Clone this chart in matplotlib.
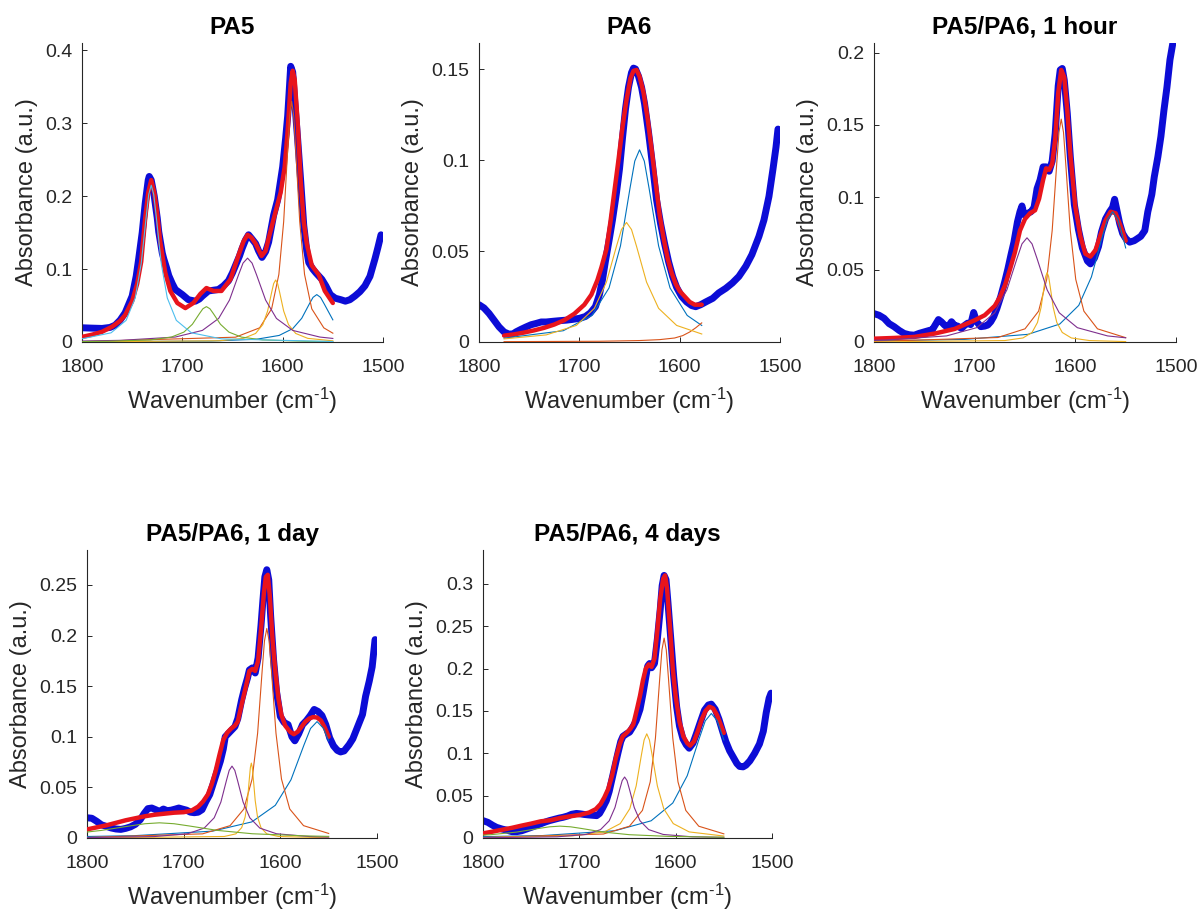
import matplotlib
matplotlib.use("Agg")
import matplotlib.pyplot as plt
from matplotlib import font_manager, ticker

# ---- data (wavenumber in cm-1, absorbance in a.u.) ----

# PA5
pa5_wn = [1800, 1790, 1780, 1772, 1767, 1762, 1757, 1750, 1746, 1743.5, 1740, 1737, 1734, 1733, 1731,
          1728, 1725, 1723.5, 1720, 1718.5, 1716, 1713.5, 1710, 1707, 1700, 1694, 1687, 1683, 1680,
          1674, 1669, 1664, 1659, 1654, 1650, 1647, 1643, 1640.5, 1637, 1634, 1631, 1627, 1624, 1620.6,
          1617, 1614, 1609, 1605, 1600, 1597, 1595, 1593, 1592, 1590, 1588, 1585, 1582, 1579, 1576,
          1574, 1570, 1567, 1561, 1557, 1552.5, 1547.5, 1542, 1537.5, 1533, 1528, 1523, 1518, 1513,
          1508, 1505, 1502]
pa5_abs = [0.0195, 0.019, 0.0186, 0.02, 0.023, 0.03, 0.04, 0.063, 0.09, 0.114, 0.15, 0.19, 0.222, 0.227,
           0.222, 0.2, 0.17, 0.151, 0.122, 0.114, 0.103, 0.091, 0.08, 0.072, 0.065, 0.058, 0.056, 0.059,
           0.063, 0.07, 0.071, 0.072, 0.077, 0.084, 0.095, 0.105, 0.118, 0.128, 0.14, 0.147, 0.142, 0.135,
           0.125, 0.116, 0.124, 0.137, 0.174, 0.195, 0.24, 0.28, 0.31, 0.355, 0.378, 0.37, 0.33, 0.277,
           0.22, 0.16, 0.125, 0.109, 0.1, 0.095, 0.086, 0.077, 0.065, 0.06, 0.058, 0.056, 0.058, 0.063,
           0.069, 0.077, 0.09, 0.114, 0.13, 0.147]
pa5_fit_wn = [1800, 1790, 1780, 1770, 1762, 1757, 1750, 1745, 1741, 1737, 1734, 1731, 1728, 1725, 1722,
              1717, 1712, 1705, 1697, 1689, 1682, 1676, 1669, 1661, 1652, 1644, 1639, 1635, 1631, 1627,
              1621, 1617, 1614, 1607, 1602, 1598, 1595, 1592, 1590, 1588, 1585, 1582, 1579, 1576, 1571,
              1564, 1558, 1550]
pa5_fit = [0.007, 0.01, 0.014, 0.021, 0.029, 0.037, 0.056, 0.08, 0.11, 0.17, 0.205, 0.222, 0.205, 0.175,
           0.137, 0.095, 0.07, 0.0535, 0.0465, 0.0535, 0.066, 0.074, 0.07, 0.07, 0.086, 0.119, 0.138, 0.147,
           0.143, 0.135, 0.118, 0.125, 0.142, 0.179, 0.205, 0.24, 0.29, 0.355, 0.372, 0.36, 0.3, 0.22,
           0.165, 0.135, 0.105, 0.092, 0.07, 0.0535]
pa5_peaks_wn = [
    [1800, 1671, 1626, 1603.5, 1590, 1581, 1573.5, 1569.75, 1566, 1562.25, 1558.5, 1550],
    [1800, 1647, 1623, 1611, 1603.8, 1599, 1595, 1593, 1591, 1589, 1587, 1583, 1578.2, 1571, 1559, 1550],
    [1800, 1663, 1639, 1627, 1619.8, 1615, 1611, 1609, 1607, 1605, 1603, 1599, 1594.2, 1587, 1575, 1550],
    [1800, 1761, 1707, 1680, 1663.8, 1653, 1644, 1639.5, 1635, 1630.5, 1626, 1617, 1606.2, 1590, 1563, 1550],
    [1800, 1774, 1732, 1711, 1698.4, 1690, 1683, 1679.5, 1676, 1672.5, 1669, 1662, 1653.6, 1641, 1620, 1578, 1550],
    [1800, 1771, 1756, 1747, 1741, 1736, 1733.5, 1731, 1728.5, 1726, 1721, 1715, 1706, 1691, 1661, 1550],
]
pa5_peaks_abs = [
    [0.0003, 0.0013, 0.0038, 0.009, 0.0183, 0.0325, 0.052, 0.0612, 0.065, 0.0612, 0.052, 0.0304],
    [0.0005, 0.0066, 0.0194, 0.0455, 0.0927, 0.165, 0.264, 0.3105, 0.33, 0.3105, 0.264, 0.165, 0.0927, 0.0455, 0.0194, 0.0121],
    [0.00015, 0.0017, 0.005, 0.0117, 0.0239, 0.0425, 0.068, 0.08, 0.085, 0.08, 0.068, 0.0425, 0.0239, 0.0117, 0.005, 0.0016],
    [0.00135, 0.0023, 0.0068, 0.0159, 0.0323, 0.0575, 0.092, 0.1082, 0.115, 0.1082, 0.092, 0.0575, 0.0323, 0.0159, 0.0068, 0.0049],
    [0.0006, 0.001, 0.00285, 0.0067, 0.0136, 0.0243, 0.0388, 0.0456, 0.0485, 0.0456, 0.0388, 0.0243, 0.0136, 0.0067, 0.00285, 0.001, 0.0006],
    [0.0044, 0.0126, 0.0297, 0.0604, 0.1075, 0.172, 0.2023, 0.215, 0.2023, 0.172, 0.1075, 0.0604, 0.0297, 0.0126, 0.0043, 0.00065],
]

# PA6
pa6_wn = [1800, 1795, 1790, 1785, 1780, 1775, 1770, 1766, 1763, 1758, 1753, 1748, 1743, 1738, 1733, 1726,
          1720, 1713, 1707, 1700, 1694, 1689, 1684, 1680, 1677, 1674, 1670, 1667, 1663, 1660, 1657, 1654,
          1651, 1648, 1646, 1644, 1641, 1638, 1635, 1631, 1627, 1623, 1619, 1615, 1611, 1607, 1603, 1598,
          1593, 1588, 1584, 1579, 1574, 1567, 1561, 1554, 1547.5, 1541, 1534, 1528, 1521, 1516, 1511,
          1507, 1504, 1502]
pa6_abs = [0.0205, 0.0187, 0.0157, 0.012, 0.0083, 0.0055, 0.0043, 0.0045, 0.0056, 0.007, 0.0083, 0.0095,
           0.0102, 0.011, 0.011, 0.0114, 0.0117, 0.012, 0.0124, 0.013, 0.014, 0.016, 0.0194, 0.026, 0.034,
           0.0444, 0.057, 0.067, 0.082, 0.095, 0.112, 0.128, 0.14, 0.148, 0.1505, 0.15, 0.146, 0.14, 0.131,
           0.115, 0.097, 0.078, 0.065, 0.054, 0.044, 0.036, 0.03, 0.025, 0.022, 0.02, 0.0194, 0.0205, 0.022,
           0.024, 0.027, 0.0295, 0.0324, 0.036, 0.0417, 0.048, 0.058, 0.067, 0.08, 0.095, 0.107, 0.117]
pa6_fit_wn = [1775, 1765, 1755, 1745, 1735, 1725, 1715, 1705, 1695, 1688, 1682, 1678, 1673, 1669, 1665,
              1661, 1657, 1653, 1649, 1646, 1643, 1640, 1636, 1632, 1628, 1624, 1620, 1616, 1612, 1608,
              1604, 1600, 1595, 1590, 1585, 1578]
pa6_fit = [0.0035, 0.0042, 0.0052, 0.0064, 0.0078, 0.0096, 0.012, 0.0155, 0.0205, 0.026, 0.034, 0.041,
           0.051, 0.066, 0.083, 0.1, 0.118, 0.133, 0.145, 0.149, 0.1495, 0.146, 0.137, 0.123, 0.106, 0.088,
           0.07, 0.057, 0.046, 0.038, 0.032, 0.028, 0.025, 0.022, 0.0205, 0.0205]
pa6_peaks_wn = [
    [1775, 1716, 1687.5, 1670.4, 1659, 1649.5, 1644.75, 1640, 1635.25, 1630.5, 1621, 1609.6, 1592.5, 1578],
    [1775, 1680, 1640, 1620, 1605, 1597, 1590, 1584, 1578],
    [1775, 1733, 1703, 1685, 1673, 1663, 1658, 1653, 1648, 1643, 1633, 1621, 1603, 1578],
]
pa6_peaks_abs = [
    [0.0021, 0.0062, 0.0146, 0.0297, 0.0528, 0.0845, 0.0994, 0.1056, 0.0994, 0.0845, 0.0528, 0.0297, 0.0146, 0.0091],
    [0.0002, 0.0004, 0.0008, 0.0013, 0.0022, 0.0035, 0.0055, 0.0078, 0.0105],
    [0.0017, 0.0039, 0.0091, 0.0185, 0.0329, 0.0526, 0.0618, 0.0657, 0.0618, 0.0526, 0.0329, 0.0185, 0.0091, 0.0044],
]

# PA5/PA6, 1 hour
h1_wn = [1800, 1795, 1790, 1785, 1780, 1775, 1770, 1765, 1760, 1755, 1750, 1745, 1742, 1739, 1736, 1733,
         1730, 1727, 1723, 1720, 1717, 1713, 1710, 1707, 1704, 1701, 1698, 1694, 1690, 1687, 1684, 1681,
         1678, 1674, 1670, 1667, 1664, 1661, 1657.5, 1655, 1653, 1651, 1647, 1644, 1641, 1638, 1635, 1632,
         1629, 1626, 1623, 1620, 1617, 1615, 1613, 1611, 1608, 1605, 1601, 1597, 1593, 1588, 1585, 1581,
         1577, 1574, 1570, 1566, 1563, 1561, 1559, 1556, 1553, 1550, 1546, 1541.5, 1538, 1535, 1531, 1528,
         1524, 1521.6, 1518, 1515, 1512, 1509, 1506, 1503]
h1_abs = [0.0196, 0.0185, 0.0164, 0.0127, 0.0106, 0.008, 0.0059, 0.005, 0.0047, 0.006, 0.007, 0.008,
          0.0085, 0.012, 0.0155, 0.0139, 0.0117, 0.01, 0.014, 0.0115, 0.011, 0.0094, 0.0115, 0.013, 0.012,
          0.0204, 0.014, 0.0106, 0.011, 0.0117, 0.014, 0.0176, 0.023, 0.0317, 0.042, 0.0505, 0.06, 0.069,
          0.083, 0.09, 0.094, 0.088, 0.089, 0.09, 0.093, 0.106, 0.112, 0.121, 0.121, 0.118, 0.125, 0.144,
          0.177, 0.188, 0.189, 0.181, 0.158, 0.128, 0.095, 0.078, 0.065, 0.056, 0.054, 0.058, 0.066, 0.076,
          0.085, 0.09, 0.093, 0.0986, 0.092, 0.082, 0.075, 0.0716, 0.069, 0.07, 0.0716, 0.073, 0.077, 0.09,
          0.102, 0.114, 0.128, 0.142, 0.16, 0.176, 0.195, 0.207]
h1_fit_wn = [1800, 1780, 1760, 1740, 1720, 1700, 1690, 1680, 1675, 1670, 1665, 1660, 1655, 1650, 1645,
             1640, 1636, 1632, 1629, 1626, 1623, 1620, 1617, 1614, 1611, 1608, 1605, 1600, 1595, 1590,
             1585, 1580, 1575, 1570, 1565, 1560, 1555, 1550]
h1_fit = [0.0023, 0.0028, 0.0035, 0.0058, 0.009, 0.015, 0.0185, 0.025, 0.031, 0.039, 0.05, 0.062, 0.077,
          0.085, 0.089, 0.091, 0.099, 0.112, 0.12, 0.119, 0.123, 0.14, 0.172, 0.188, 0.183, 0.16, 0.13,
          0.0935, 0.073, 0.061, 0.059, 0.0635, 0.074, 0.084, 0.09, 0.089, 0.08, 0.07]
h1_peaks_wn = [
    [1800, 1710, 1647, 1615.5, 1596.6, 1584, 1573.5, 1568.25, 1563, 1557.75, 1552.5, 1550],
    [1800, 1677, 1650, 1636.5, 1628.4, 1623, 1618.5, 1616.25, 1614, 1611.75, 1609.5, 1605, 1599.6, 1591.5, 1578, 1550],
    [1800, 1670, 1652, 1643, 1637.6, 1634, 1631, 1629.5, 1628, 1626.5, 1625, 1622, 1618.4, 1613, 1604, 1586, 1550],
    [1800, 1788, 1728, 1698, 1680, 1668, 1658, 1653, 1648, 1643, 1638, 1628, 1616, 1598, 1568, 1550],
]
h1_peaks_abs = [
    [0.0007, 0.0018, 0.0053, 0.0124, 0.0253, 0.045, 0.072, 0.0847, 0.09, 0.0847, 0.072, 0.065],
    [0.00036, 0.0031, 0.0091, 0.0213, 0.0433, 0.077, 0.123, 0.1449, 0.154, 0.1449, 0.123, 0.077, 0.0433, 0.0213, 0.0091, 0.003],
    [0.00006, 0.001, 0.0028, 0.0066, 0.0135, 0.024, 0.0384, 0.0452, 0.048, 0.0452, 0.0384, 0.024, 0.0135, 0.0066, 0.0028, 0.001, 0.0003],
    [0.0012, 0.0014, 0.0042, 0.0099, 0.0202, 0.036, 0.0576, 0.0678, 0.072, 0.0678, 0.0576, 0.036, 0.0202, 0.0099, 0.0042, 0.0029],
]

# PA5/PA6, 1 day
d1_wn = [1800, 1795, 1790, 1785, 1780, 1775, 1770, 1765, 1760, 1755, 1750, 1745, 1741, 1737, 1733, 1729,
         1725, 1721, 1717, 1713, 1709, 1705, 1701, 1697, 1693, 1689, 1685, 1681, 1677, 1673, 1669, 1665,
         1662, 1659, 1657, 1653, 1650, 1647, 1644, 1640, 1637, 1634, 1632, 1629, 1626, 1623, 1620, 1618,
         1616, 1614, 1612, 1610, 1607, 1604, 1600, 1596, 1592, 1588, 1585, 1581, 1577, 1573, 1569, 1565,
         1561, 1557, 1553, 1549, 1545, 1541, 1537.7, 1534, 1529, 1525, 1520, 1515, 1511.8, 1508, 1505, 1502]
d1_abs = [0.02, 0.0195, 0.0165, 0.013, 0.0115, 0.0099, 0.0089, 0.0085, 0.0095, 0.011, 0.0135, 0.018,
          0.024, 0.029, 0.0296, 0.028, 0.0263, 0.0286, 0.027, 0.0275, 0.0285, 0.0296, 0.0285, 0.0275,
          0.0255, 0.025, 0.0255, 0.028, 0.036, 0.043, 0.055, 0.067, 0.076, 0.088, 0.1, 0.104, 0.107, 0.11,
          0.118, 0.1365, 0.148, 0.158, 0.166, 0.168, 0.163, 0.178, 0.21, 0.235, 0.258, 0.265, 0.255, 0.219,
          0.176, 0.145, 0.12, 0.114, 0.112, 0.1, 0.096, 0.103, 0.112, 0.116, 0.121, 0.127, 0.125, 0.121,
          0.112, 0.099, 0.091, 0.0865, 0.085, 0.086, 0.092, 0.098, 0.11, 0.122, 0.14, 0.155, 0.169, 0.196]
d1_fit_wn = [1800, 1790, 1780, 1770, 1760, 1750, 1740, 1730, 1720, 1710, 1700, 1692, 1685, 1680, 1675,
             1671, 1667, 1663, 1659, 1655, 1651, 1647, 1644, 1640, 1636, 1632, 1629, 1626, 1623, 1620,
             1617, 1615, 1613, 1611, 1608, 1605, 1602, 1599, 1595, 1590, 1586, 1582, 1578, 1574, 1570,
             1566, 1562, 1558, 1554, 1550]
d1_fit = [0.0085, 0.0105, 0.0125, 0.015, 0.0175, 0.0195, 0.0215, 0.023, 0.024, 0.025, 0.0255, 0.027,
          0.031, 0.036, 0.043, 0.053, 0.066, 0.082, 0.097, 0.104, 0.108, 0.111, 0.115, 0.132, 0.148, 0.165,
          0.167, 0.165, 0.175, 0.206, 0.242, 0.258, 0.26, 0.24, 0.195, 0.163, 0.138, 0.122, 0.111, 0.105,
          0.1025, 0.105, 0.11, 0.115, 0.118, 0.1195, 0.119, 0.116, 0.109, 0.1]
d1_peaks_wn = [
    [1800, 1751, 1670, 1629.5, 1605.2, 1589, 1575.5, 1568.75, 1562, 1555.25, 1550],
    [1800, 1680.5, 1652, 1637.75, 1629.2, 1623.5, 1618.75, 1616.4, 1614, 1611.6, 1609.25, 1604.5, 1598.8, 1590.25, 1576, 1550],
    [1800, 1658, 1646, 1640, 1636.4, 1634, 1632, 1631, 1630, 1629, 1628, 1626, 1623.6, 1620, 1614, 1602, 1550],
    [1800, 1730.5, 1696, 1678.75, 1668.4, 1661.5, 1655.75, 1652.9, 1650, 1647.1, 1644.25, 1638.5, 1631.6, 1621.25, 1604, 1569.5, 1550],
    [1800, 1785, 1755, 1740, 1725, 1710, 1695, 1665, 1629, 1575, 1550],
]
d1_peaks_abs = [
    [0.0015, 0.0023, 0.0068, 0.0159, 0.0323, 0.0575, 0.092, 0.1082, 0.115, 0.1082, 0.096],
    [0.00054, 0.0041, 0.0122, 0.0286, 0.0582, 0.1035, 0.166, 0.1948, 0.207, 0.1948, 0.166, 0.1035, 0.0582, 0.0286, 0.0122, 0.0045],
    [0.00004, 0.0015, 0.0041, 0.0102, 0.0208, 0.037, 0.0592, 0.0696, 0.074, 0.0696, 0.0592, 0.037, 0.0208, 0.0102, 0.0041, 0.0015, 0.0002],
    [0.0004, 0.0014, 0.0042, 0.0098, 0.02, 0.0355, 0.0568, 0.0668, 0.071, 0.0668, 0.0568, 0.0355, 0.02, 0.0098, 0.0042, 0.0014, 0.0009],
    [0.0059, 0.0075, 0.012, 0.0141, 0.015, 0.0141, 0.012, 0.0075, 0.0042, 0.0021, 0.0016],
]

# PA5/PA6, 4 days
d4_wn = [1800, 1795, 1790, 1786, 1780, 1775, 1770, 1765, 1760, 1755, 1750, 1745, 1740, 1735, 1731, 1726,
         1721, 1717, 1712, 1708, 1703, 1699, 1695, 1690, 1686, 1682, 1679, 1676, 1672, 1669, 1666, 1663,
         1660, 1657, 1654.7, 1651, 1647.8, 1644, 1641, 1637, 1634, 1631, 1629, 1627, 1625, 1622, 1619,
         1616, 1614, 1612, 1610, 1608, 1605, 1602, 1599, 1596, 1592.4, 1589, 1586, 1582, 1578.5, 1574,
         1570, 1566, 1563, 1559, 1555, 1551, 1548, 1544, 1540, 1536.5, 1533.6, 1530, 1527, 1523, 1518,
         1513, 1509, 1506, 1503, 1501]
d4_abs = [0.0205, 0.0185, 0.015, 0.0126, 0.0105, 0.0092, 0.0075, 0.0075, 0.0085, 0.0105, 0.0125, 0.0146,
          0.0168, 0.019, 0.0205, 0.022, 0.0235, 0.0244, 0.026, 0.028, 0.029, 0.0285, 0.0278, 0.0272, 0.0268,
          0.0264, 0.029, 0.035, 0.044, 0.055, 0.07, 0.085, 0.1, 0.114, 0.12, 0.123, 0.125, 0.132, 0.1386,
          0.152, 0.17, 0.19, 0.203, 0.206, 0.201, 0.206, 0.235, 0.27, 0.298, 0.31, 0.305, 0.278, 0.234,
          0.19, 0.155, 0.132, 0.117, 0.11, 0.106, 0.112, 0.123, 0.138, 0.151, 0.157, 0.158, 0.152, 0.14,
          0.125, 0.114, 0.103, 0.095, 0.088, 0.0845, 0.084, 0.086, 0.091, 0.1, 0.111, 0.126, 0.148, 0.165, 0.171]
d4_fit_wn = [1800, 1790, 1780, 1770, 1760, 1750, 1740, 1730, 1720, 1710, 1700, 1690, 1683, 1678, 1674,
             1670, 1666, 1662, 1658, 1655, 1651, 1647, 1644, 1640, 1637, 1634, 1631, 1628, 1625, 1622,
             1619, 1616, 1613, 1611, 1609, 1606, 1603, 1600, 1596, 1592, 1588, 1585, 1581, 1577, 1573,
             1569, 1565, 1561, 1557, 1553, 1550]
d4_fit = [0.0055, 0.0075, 0.0098, 0.012, 0.0146, 0.017, 0.0197, 0.021, 0.0236, 0.0255, 0.0272, 0.03, 0.034,
          0.04, 0.048, 0.058, 0.074, 0.095, 0.111, 0.12, 0.124, 0.129, 0.134, 0.153, 0.168, 0.186, 0.2,
          0.205, 0.202, 0.212, 0.245, 0.283, 0.306, 0.31, 0.295, 0.25, 0.2, 0.167, 0.137, 0.12, 0.112,
          0.109, 0.114, 0.126, 0.14, 0.15, 0.155, 0.153, 0.145, 0.133, 0.124]
d4_peaks_wn = [
    [1800, 1738, 1663, 1625.5, 1603, 1588, 1575.5, 1569.25, 1563, 1556.75, 1550],
    [1800, 1675, 1648, 1634.5, 1626.4, 1621, 1616.5, 1614.25, 1612, 1609.75, 1607.5, 1603, 1597.6, 1589.5, 1576, 1550],
    [1800, 1707, 1674, 1657.5, 1647.6, 1641, 1635.5, 1632.75, 1630, 1627.25, 1624.5, 1619, 1612.4, 1602.5, 1586, 1550],
    [1800, 1723, 1693, 1678, 1669, 1663, 1658, 1655.5, 1653, 1650.5, 1648, 1643, 1637, 1628, 1613, 1583, 1550],
    [1800, 1792, 1765, 1742.5, 1731, 1720, 1709, 1697.5, 1675, 1648, 1607.5, 1550],
]
d4_peaks_abs = [
    [0.0016, 0.0029, 0.0086, 0.0203, 0.0413, 0.0735, 0.1176, 0.1383, 0.147, 0.1383, 0.1157],
    [0.00054, 0.0047, 0.0139, 0.0326, 0.0663, 0.118, 0.189, 0.2221, 0.236, 0.2221, 0.189, 0.118, 0.0663, 0.0326, 0.0139, 0.0049],
    [0.0005, 0.0025, 0.0072, 0.017, 0.0346, 0.0615, 0.0984, 0.1157, 0.123, 0.1157, 0.0984, 0.0615, 0.0346, 0.017, 0.0072, 0.0023],
    [0.0003, 0.0014, 0.0042, 0.0099, 0.0203, 0.036, 0.0576, 0.0678, 0.072, 0.0678, 0.0576, 0.036, 0.0203, 0.0099, 0.0042, 0.0014, 0.0007],
    [0.0034, 0.0039, 0.007, 0.0112, 0.0132, 0.014, 0.0132, 0.0112, 0.007, 0.0039, 0.0019, 0.0009],
]

titles = ["PA5", "PA6", "PA5/PA6, 1 hour", "PA5/PA6, 1 day", "PA5/PA6, 4 days"]
y_top = [0.41, 0.1643, 0.2066, 0.2845, 0.34]
y_ticks = [[0, 0.1, 0.2, 0.3, 0.4],
           [0, 0.05, 0.1, 0.15],
           [0, 0.05, 0.1, 0.15, 0.2],
           [0, 0.05, 0.1, 0.15, 0.2, 0.25],
           [0, 0.05, 0.1, 0.15, 0.2, 0.25, 0.3]]
x_ticks = [1800, 1700, 1600, 1500]

panels = [
    (pa5_wn, pa5_abs, pa5_fit_wn, pa5_fit, pa5_peaks_wn, pa5_peaks_abs),
    (pa6_wn, pa6_abs, pa6_fit_wn, pa6_fit, pa6_peaks_wn, pa6_peaks_abs),
    (h1_wn, h1_abs, h1_fit_wn, h1_fit, h1_peaks_wn, h1_peaks_abs),
    (d1_wn, d1_abs, d1_fit_wn, d1_fit, d1_peaks_wn, d1_peaks_abs),
    (d4_wn, d4_abs, d4_fit_wn, d4_fit, d4_peaks_wn, d4_peaks_abs),
]

# MATLAB default colour order for the fitted components
comp_colors = ["#0072BD", "#D95319", "#EDB120", "#7E2F8E", "#77AC30", "#4DBEEE"]

# ---- styling ----
plt.rcParams["font.family"] = ["Liberation Sans", "DejaVu Sans"]
plt.rcParams["mathtext.fontset"] = "custom"
plt.rcParams["mathtext.rm"] = "Liberation Sans"
plt.rcParams["mathtext.default"] = "regular"

installed = {f.name for f in font_manager.fontManager.ttflist}
if "Liberation Sans Narrow" in installed:
    tick_font, tick_size = "Liberation Sans Narrow", 16
else:
    tick_font, tick_size = "Liberation Sans", 14

W, H = 1198, 911
# axes boxes in pixels: left, top, right, bottom
boxes = [(82, 43, 383, 342), (479, 43, 780, 342), (874, 43, 1176, 342),
         (87, 550, 377, 838), (483, 550, 772, 838)]

fig = plt.figure(figsize=(W / 100, H / 100), dpi=100)
axis_grey = "#262626"

for i, (wn, ab, fwn, fit, pwn, pab) in enumerate(panels):
    l, t, r, b = boxes[i]
    ax = fig.add_axes([l / W, 1 - b / H, (r - l) / W, (b - t) / H])

    ax.plot(wn, ab, color="#0c0cd6", lw=5, solid_capstyle="round", solid_joinstyle="round", zorder=2)
    ax.plot(fwn, fit, color="#e8141c", lw=3.2, solid_capstyle="round", zorder=3)
    for k, (cx, cy) in enumerate(zip(pwn, pab)):
        ax.plot(cx, cy, color=comp_colors[k], lw=0.8, zorder=4)

    ax.set_xlim(1800, 1500)
    ax.set_ylim(0, y_top[i])
    ax.set_xticks(x_ticks)
    ax.set_yticks(y_ticks[i])
    ax.yaxis.set_major_formatter(ticker.FuncFormatter(lambda v, p: "%g" % v))

    for s in ["top", "right"]:
        ax.spines[s].set_visible(False)
    for s in ["left", "bottom"]:
        ax.spines[s].set_color(axis_grey)
        ax.spines[s].set_linewidth(0.8)

    ax.tick_params(direction="in", length=3.5, width=0.7, colors=axis_grey)
    ax.tick_params(axis="x", pad=12)
    ax.tick_params(axis="y", pad=7)
    for lab in ax.get_xticklabels() + ax.get_yticklabels():
        lab.set_fontfamily(tick_font)
        lab.set_fontsize(tick_size)

    ax.set_title(titles[i], fontsize=17.5, fontweight="bold", pad=6.5)
    ax.set_xlabel(r"Wavenumber (cm$^{\text{-}1}$)", fontsize=17, color=axis_grey, labelpad=7)
    ax.set_ylabel("Absorbance (a.u.)", fontsize=17, color=axis_grey, labelpad=5)

fig.savefig("out.png", dpi=100)
